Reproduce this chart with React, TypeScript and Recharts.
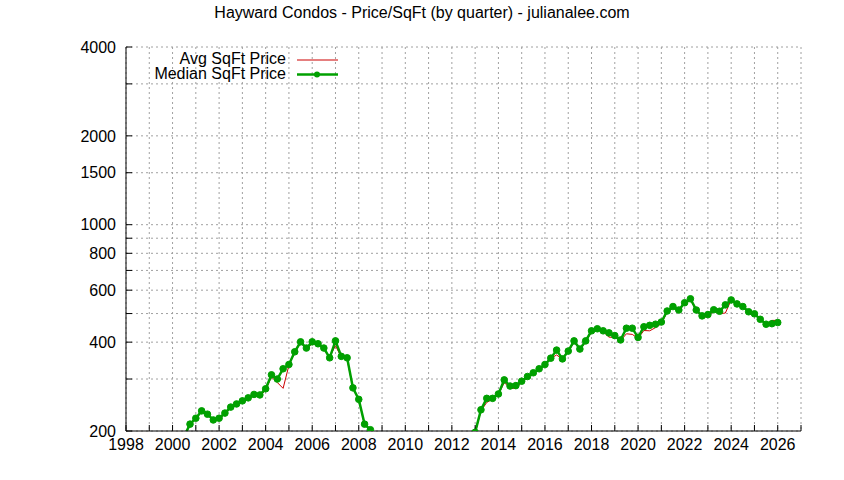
import React from "react";
import { CartesianGrid, Line, LineChart, XAxis, YAxis } from "recharts";

// quarterly series, first point is Q3 2000 (below the axis floor)
const START = 2000.5;

const medianPrice = [
  192,
  211, 221, 234, 228, 218, 221, 230, 241, 247, 253, 259, 266, 265, 278, 310, 300,
  325, 336, 371, 401, 382, 401, 395, 382, 354, 404, 358, 354, 280, 256, 211, 202,
  190, 160, 150, 145, 140, 135, 130, 125, 122, 118, 116, 114, 118, 122, 130, 150, 175,
  198,
  236, 258, 258, 267, 298, 284, 285, 295, 306, 315, 325, 336, 353, 376, 351, 373,
  404, 379, 404, 437, 444, 437, 430, 421, 407, 446, 446, 415, 451, 456, 460, 468,
  510, 528, 514, 544, 561, 514, 491, 496, 515, 509, 535, 556, 539, 528, 507, 499,
  478, 460, 462, 466,
];

const avgPrice = [
  192,
  211, 220, 232, 227, 217, 220, 228, 239, 245, 251, 257, 263, 262, 275, 305, 292,
  279, 334, 369, 398, 380, 395, 392, 378, 357, 389, 356, 350, 279, 255, 210, 201,
  188, 158, 148, 143, 138, 133, 128, 124, 120, 117, 115, 113, 117, 121, 128, 148, 172,
  197,
  234, 250, 256, 265, 292, 279, 279, 292, 304, 313, 323, 334, 352, 362, 350, 370,
  400, 377, 401, 433, 441, 434, 416, 415, 405, 427, 425, 412, 438, 437, 448, 462,
  505, 522, 512, 538, 556, 512, 484, 489, 511, 500, 502, 556, 536, 526, 510, 501,
  476, 460, 474, 474,
];

const yearTicks = [
  1998, 1999, 2000, 2001, 2002, 2003, 2004, 2005, 2006, 2007, 2008, 2009, 2010, 2011, 2012,
  2013, 2014, 2015, 2016, 2017, 2018, 2019, 2020, 2021, 2022, 2023, 2024, 2025, 2026, 2027,
];
const yearLabels = [
  1998, 2000, 2002, 2004, 2006, 2008, 2010, 2012, 2014, 2016, 2018, 2020, 2022, 2024, 2026,
];
const priceTicks = [200, 300, 400, 500, 600, 700, 800, 900, 1000, 1500, 2000, 3000, 4000];
const priceLabels = [200, 400, 600, 800, 1000, 1500, 2000, 4000];

const TITLE = "Hayward Condos - Price/SqFt (by quarter) - julianalee.com";
const RED = "#cc0000";
const GREEN = "#00a000";
const FONT = "'Liberation Sans', Arial, sans-serif";
const FS = 16;

const data = medianPrice.map((m, i) => ({
  t: START + i / 4,
  median: m,
  avg: avgPrice[i],
}));

const tickStyle = { fill: "#000", fontFamily: FONT, fontSize: FS };

export default function App() {
  return (
    <div style={{ position: "absolute", left: 0, top: 0, width: 844, height: 480, background: "#fff" }}>
      <LineChart width={844} height={480} data={data} margin={{ top: 47, right: 43, bottom: 0, left: 0 }}>
        <CartesianGrid stroke="#a0a0a0" strokeDasharray="2 3" />
        <XAxis
          dataKey="t"
          type="number"
          domain={[1998, 2027]}
          ticks={yearTicks}
          interval={0}
          height={49}
          stroke="#000"
          tickSize={-6}
          tickMargin={14}
          tick={tickStyle}
          tickFormatter={(v: number) => (yearLabels.includes(v) ? String(v) : "")}
        />
        <XAxis
          xAxisId="top"
          orientation="top"
          dataKey="t"
          type="number"
          domain={[1998, 2027]}
          ticks={yearTicks}
          interval={0}
          height={0}
          stroke="#000"
          tickSize={-6}
          tickFormatter={() => ""}
        />
        <YAxis
          scale="log"
          domain={[200, 4000]}
          allowDataOverflow
          ticks={priceTicks}
          interval={0}
          width={126}
          stroke="#000"
          tickSize={-6}
          tickMargin={16}
          tick={tickStyle}
          tickFormatter={(v: number) => (priceLabels.includes(v) ? String(v) : "")}
        />
        <YAxis
          yAxisId="right"
          orientation="right"
          scale="log"
          domain={[200, 4000]}
          allowDataOverflow
          ticks={priceTicks}
          interval={0}
          width={0}
          stroke="#000"
          tickSize={-6}
          tickFormatter={() => ""}
        />
        <Line
          dataKey="avg"
          stroke={RED}
          strokeWidth={1}
          dot={false}
          isAnimationActive={false}
        />
        <Line
          dataKey="median"
          stroke={GREEN}
          strokeWidth={2.5}
          dot={{ r: 3.3, fill: GREEN, stroke: GREEN, strokeWidth: 1 }}
          isAnimationActive={false}
        />
      </LineChart>
      <svg
        width={844}
        height={480}
        style={{ position: "absolute", left: 0, top: 0, pointerEvents: "none" }}
      >
        <text x={422} y={18} textAnchor="middle" fontFamily={FONT} fontSize={FS} fill="#000">
          {TITLE}
        </text>
        <text x={286} y={64} textAnchor="end" fontFamily={FONT} fontSize={FS} fill="#000">
          Avg SqFt Price
        </text>
        <line x1={297} x2={338} y1={60} y2={60} stroke={RED} strokeWidth={1} />
        <text x={286} y={79} textAnchor="end" fontFamily={FONT} fontSize={FS} fill="#000">
          Median SqFt Price
        </text>
        <line x1={297} x2={338} y1={74.5} y2={74.5} stroke={GREEN} strokeWidth={2.5} />
        <circle cx={317} cy={74.5} r={3} fill={GREEN} />
      </svg>
    </div>
  );
}
